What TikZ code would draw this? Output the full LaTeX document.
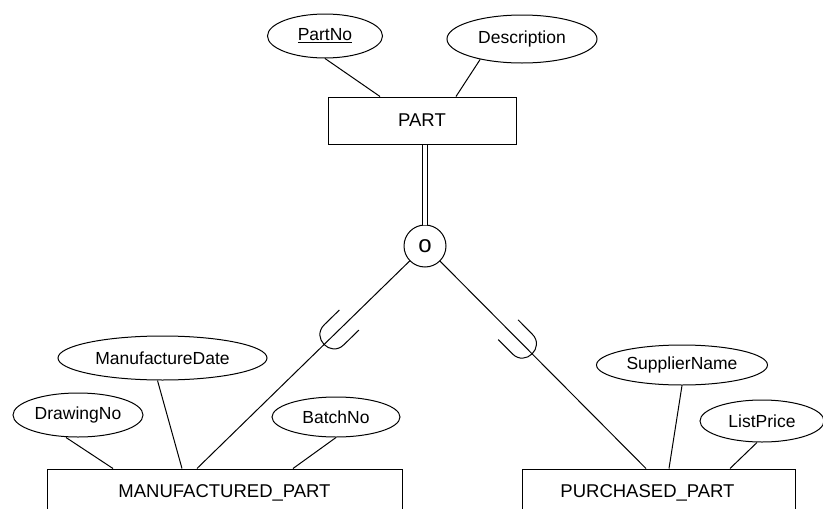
\documentclass[tikz,border=0pt]{standalone}
\usepackage{fontspec}
\setmainfont{Liberation Sans}
\usetikzlibrary{shapes.geometric,calc}

% U-shaped subset mark on the line from #1 to #2,
% arms from distance #3 to #4 along the line, half-width 14pt
\newcommand{\subsetU}[4]{%
  \draw ($(#1)!#3pt!(#2)!14pt!90:(#2)$) -- ($(#1)!#4pt!(#2)!14pt!90:(#2)$)
    .. controls ($(#1)!{#4pt+18.7pt}!(#2)!14pt!90:(#2)$)
            and ($(#1)!{#4pt+18.7pt}!(#2)!14pt!-90:(#2)$)
    .. ($(#1)!#4pt!(#2)!14pt!-90:(#2)$) -- ($(#1)!#3pt!(#2)!14pt!-90:(#2)$);}

\begin{document}
\begin{tikzpicture}[x=1pt,y=-1pt,line width=1pt,
  entity/.style={draw,rectangle,inner sep=0pt,font=\fontsize{18.5}{20}\selectfont},
  attr/.style={draw,ellipse,inner sep=0pt,font=\fontsize{17.5}{19}\selectfont},
  disj/.style={draw,circle,inner sep=0pt,minimum size=42,font=\fontsize{24}{26}\selectfont},
  total/.style={draw,line width=1pt,double=white,double distance=3.5pt}]
\clip (0,0) rectangle (823,509);

% superclass and its attributes
\node[entity,minimum width=188,minimum height=47] (part) at (422,120.5) {PART};
\node[attr,minimum width=115,minimum height=44] (pn) at (325,36) {\underline{PartNo}};
\node[attr,minimum width=150,minimum height=48] (desc) at (522,39) {Description};

% specialization circle
\node[disj] (dj) at (425,246) {o};

% subclasses (boxes run past the lower edge)
\node[entity,minimum width=355,minimum height=48] (mp) at (224.5,493) {MANUFACTURED\_PART};
\node[entity,minimum width=273,minimum height=48,
      label={[font=\fontsize{18.5}{20}\selectfont,xshift=-11pt]center:PURCHASED\_PART}] (pp) at (658.5,493) {};

% subclass attributes
\node[attr,minimum width=209,minimum height=44] (md) at (162.5,358) {ManufactureDate};
\node[attr,minimum width=130,minimum height=44] (dn) at (78,415) {DrawingNo};
\node[attr,minimum width=128,minimum height=40] (bn) at (336,417) {BatchNo};
\node[attr,minimum width=171,minimum height=40] (sn) at (682,365) {SupplierName};
\node[attr,minimum width=124,minimum height=42] (lp) at (762,421) {ListPrice};

% attribute links
\draw (pn.south) -- ([xshift=-42pt]part.north);
\draw (desc.206) -- ([xshift=34pt]part.north);
\draw ([xshift=-5pt]md.south) -- ([xshift=-42.5pt]mp.north);
\draw ([xshift=-12pt]dn.south) -- ([xshift=-111.5pt]mp.north);
\draw (bn.south) -- ([xshift=68.5pt]mp.north);
\draw (sn.south) -- ([xshift=10.5pt]pp.north);
\draw ([xshift=-5pt]lp.south) -- ([xshift=71.5pt]pp.north);

% total participation of the superclass
\draw[total] (dj.north |- part.south) -- (dj.north);

% links to the subclasses with subset marks
\coordinate (mL) at ([xshift=-27.5pt]mp.north);
\coordinate (pR) at ([xshift=-12.5pt]pp.north);
\draw (dj) -- (mL);
\draw (dj) -- (pR);
\subsetU{dj.center}{mL}{106}{127}
\subsetU{dj.center}{pR}{118}{138}
\end{tikzpicture}
\end{document}
